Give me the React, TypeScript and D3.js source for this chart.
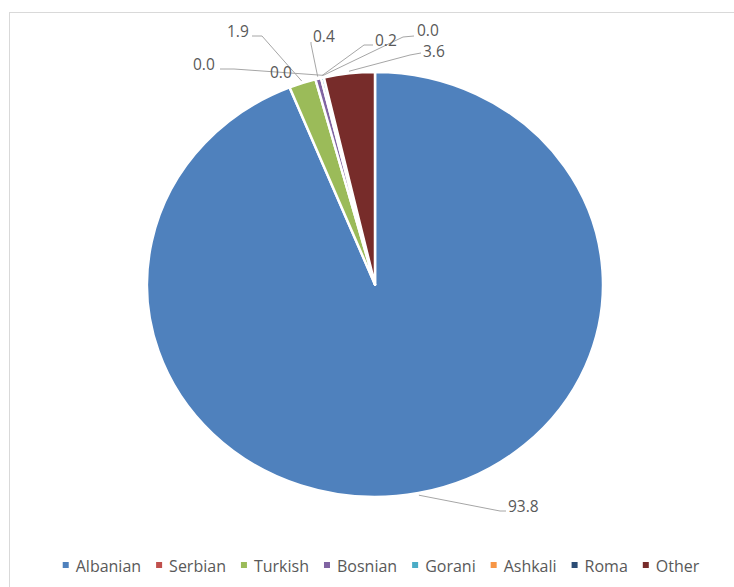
import React, { useMemo } from "react";
import * as d3 from "d3";

const categories = ["Albanian", "Serbian", "Turkish", "Bosnian", "Gorani", "Ashkali", "Roma", "Other"];
const values = [93.8, 0.0, 1.9, 0.4, 0.2, 0.0, 0.0, 3.6];
const colors = ["#4F81BD", "#C0504D", "#9BBB59", "#8064A2", "#4BACC6", "#F79646", "#2C4D75", "#772C2A"];

// label layout: text left x, baseline y, leader polyline start + elbow (null = no leader)
const labelLayout: { x: number; y: number; line: [number, number][] | null }[] = [
  { x: 508, y: 512, line: [[506, 511], [500, 511]] },
  { x: 270, y: 78, line: null },
  { x: 227, y: 37, line: [[252, 36], [262, 36]] },
  { x: 313, y: 42, line: [[311, 42], [311, 44]] },
  { x: 375, y: 46, line: [[373, 45], [364, 45]] },
  { x: 193, y: 70, line: [[220, 69], [234, 69]] },
  { x: 417, y: 36, line: [[414, 36], [403, 37]] },
  { x: 423, y: 57, line: [[421, 53], [410, 55]] },
];

const W = 734;
const H = 587;
const cx = 375;
const cy = 284.5;
const rx = 228;
const ry = 212.5;

export default function App() {
  const pie = d3.pie<number>().sort(null).value((d) => d).startAngle(0).endAngle(2 * Math.PI);
  const arcs = pie(values);
  const arcGen = d3.arc<d3.PieArcDatum<number>>().innerRadius(0).outerRadius(rx);

  const font = "'Open Sans', sans-serif";
  const legend = useMemo(() => {
    const canvas = document.createElement("canvas");
    const ctx = canvas.getContext("2d")!;
    ctx.font = "16px 'Open Sans'";
    const markerToText = 13;
    const gap = 15;
    const widths = categories.map((c) => ctx.measureText(c).width);
    const total = widths.reduce((a, w) => a + markerToText + w, 0) + gap * (categories.length - 1);
    let x = 381 - total / 2;
    return categories.map((c, i) => {
      const item = { x, name: c, color: colors[i] };
      x += markerToText + widths[i] + gap;
      return item;
    });
  }, []);

  const piePoint = (a: number, k = 1.0) => [cx + rx * k * Math.sin(a), cy - ry * k * Math.cos(a)] as [number, number];

  return (
    <svg width={W} height={H} style={{ position: "absolute", left: 0, top: 0, background: "#fff" }}>
      <rect x={9.5} y={12.5} width={W + 10} height={H + 10} fill="#fff" stroke="#D9D9D9" strokeWidth={1} />
      <g transform={`translate(${cx},${cy}) scale(1,${ry / rx})`}>
        {arcs.map((a, i) =>
          a.value > 0 ? (
            <path
              key={i}
              d={arcGen(a) || ""}
              fill={colors[i]}
              stroke="#fff"
              strokeWidth={2.5}
              strokeLinejoin="round"
              vectorEffect="non-scaling-stroke"
            />
          ) : null
        )}
      </g>
      <g>
        {arcs.map((a, i) => {
          const L = labelLayout[i];
          if (!L.line) return null;
          const mid = (a.startAngle + a.endAngle) / 2;
          const pts = [...L.line, piePoint(mid, 1.01)];
          return (
            <polyline
              key={i}
              points={pts.map((p) => p.join(",")).join(" ")}
              fill="none"
              stroke="#A6A6A6"
              strokeWidth={1}
            />
          );
        })}
      </g>
      <g fontFamily={font} fontSize={15.5} fill="#595959">
        {values.map((v, i) => (
          <text key={i} x={labelLayout[i].x} y={labelLayout[i].y}>
            {d3.format(".1f")(v)}
          </text>
        ))}
      </g>
      <g fontFamily={font} fontSize={16} fill="#595959">
        {legend.map((l, i) => (
          <g key={i}>
            <rect x={l.x} y={562} width={6} height={6} fill={l.color} />
            <text x={l.x + 13} y={572}>
              {l.name}
            </text>
          </g>
        ))}
      </g>
    </svg>
  );
}
